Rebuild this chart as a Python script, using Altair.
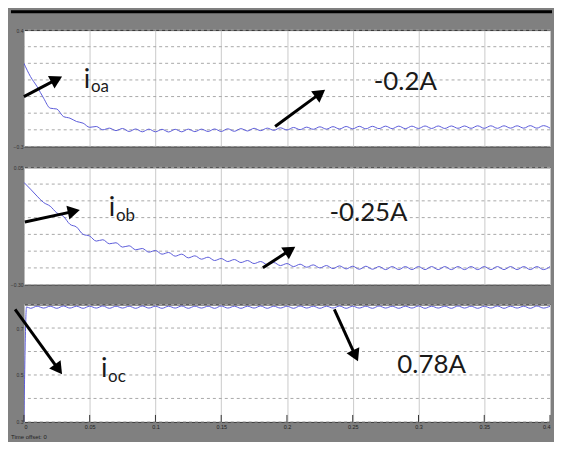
import math
import altair as alt
import pandas as pd

# ---------------- data ----------------
time = [round(i * 0.005, 3) for i in range(81)]

i_oa = [0.20, 0.12, 0.06, -0.01, -0.07, -0.075, -0.12, -0.13, -0.15, -0.16,
        -0.185, -0.18, -0.20, -0.19, -0.205, -0.192,
        -0.210, -0.195, -0.212, -0.196, -0.212, -0.197, -0.213, -0.197, -0.212, -0.196,
        -0.211, -0.196, -0.210, -0.195, -0.210, -0.194, -0.209, -0.193, -0.207, -0.191,
        -0.205, -0.190, -0.203, -0.188, -0.201, -0.186, -0.199, -0.184, -0.197, -0.182,
        -0.196, -0.181, -0.195, -0.180, -0.194, -0.179, -0.194, -0.179, -0.193, -0.178,
        -0.193, -0.178, -0.193, -0.178, -0.192, -0.177, -0.192, -0.177, -0.192, -0.177,
        -0.191, -0.177, -0.191, -0.176, -0.191, -0.176, -0.191, -0.176, -0.190, -0.176,
        -0.190, -0.175, -0.190, -0.175, -0.190]

i_ob = [0.005, -0.015, -0.036, -0.055, -0.066, -0.086, -0.096, -0.120, -0.128, -0.150,
        -0.155, -0.170, -0.166, -0.178, -0.175, -0.188, -0.184, -0.196, -0.192, -0.203,
        -0.198, -0.209, -0.204, -0.215, -0.209, -0.220, -0.214, -0.224, -0.218, -0.228,
        -0.222, -0.231, -0.225, -0.234, -0.228, -0.237, -0.231, -0.240, -0.234, -0.243,
        -0.237, -0.246, -0.239, -0.248, -0.241, -0.250, -0.243, -0.252, -0.244, -0.253,
        -0.245, -0.254, -0.245, -0.254, -0.246, -0.255, -0.246, -0.255, -0.246, -0.255,
        -0.246, -0.255, -0.246, -0.255, -0.246, -0.255, -0.246, -0.255, -0.246, -0.255,
        -0.246, -0.255, -0.246, -0.255, -0.246, -0.255, -0.246, -0.255, -0.246, -0.255,
        -0.246]

time_oc = [0.0, 0.002] + [round(i * 0.005, 3) for i in range(1, 81)]
i_oc = [0.30, 0.79,
        0.784, 0.793, 0.785, 0.793, 0.784, 0.794, 0.785, 0.793, 0.784, 0.793,
        0.785, 0.794, 0.784, 0.793, 0.785, 0.793, 0.784, 0.794, 0.785, 0.793,
        0.784, 0.793, 0.785, 0.794, 0.784, 0.793, 0.785, 0.793, 0.784, 0.794,
        0.785, 0.793, 0.784, 0.793, 0.785, 0.794, 0.784, 0.793, 0.785, 0.793,
        0.784, 0.794, 0.785, 0.793, 0.784, 0.793, 0.785, 0.794, 0.784, 0.793,
        0.785, 0.793, 0.784, 0.794, 0.785, 0.793, 0.784, 0.793, 0.785, 0.794,
        0.784, 0.793, 0.785, 0.793, 0.784, 0.794, 0.785, 0.793, 0.784, 0.793,
        0.785, 0.794, 0.784, 0.793, 0.785, 0.793, 0.784, 0.794, 0.785, 0.793]

x_ticks = [0, 0.05, 0.1, 0.15, 0.2, 0.25, 0.3, 0.35, 0.4]
y_ticks_a = [-0.3, -0.2, -0.1, 0.0, 0.1, 0.2, 0.3, 0.4]
y_ticks_b = [-0.3, -0.25, -0.2, -0.15, -0.1, -0.05, 0.0, 0.05]
y_ticks_c = [0.3, 0.4, 0.5, 0.6, 0.7, 0.8]

# annotation arrows (tail t, tail v, tip t, tip v) in data units
arrows_a = [(0.0, 0.0, 0.029, 0.12), (0.191, -0.18, 0.229, 0.041)]
arrows_b = [(0.0007, -0.113, 0.0425, -0.0775), (0.1817, -0.2496, 0.2063, -0.187)]
arrows_c = [(-0.0067, 0.779, 0.029, 0.503), (0.236, 0.779, 0.254, 0.558)]

# symbol texts: (t, v, main, subscript t, subscript v, subscript)
sym_a = (0.048, 0.10, "i", 0.051, 0.055, "oa")
sym_b = (0.067, -0.072, "i", 0.070, -0.095, "ob")
sym_c = (0.061, 0.525, "i", 0.064, 0.492, "oc")
val_a = (0.290, 0.089, "-0.2A")
val_b = (0.262, -0.086, "-0.25A")
val_c = (0.3100, 0.542, "0.78A")
time_offset_label = ["Time offset:  0"]

# ---------------- chart ----------------
W = 529
X_DOM = [0, 0.4]
HEAD = 200
FONT = "Lato"


def panel(t, v, ydom, yvals, yfmt, H, arrows, sym, val, top=False, bottom=False):
    xs = alt.Scale(domain=X_DOM, nice=False, zero=False)
    ys = alt.Scale(domain=ydom, nice=False, zero=False)
    xaxis = alt.Axis(values=x_ticks, format="~g", grid=True, gridColor="#cacaca",
                     gridWidth=1, ticks=False, domain=False, labels=bottom,
                     labelFontSize=5.5, labelColor="#222", labelPadding=3,
                     labelFont="Liberation Sans", title=None)
    yaxis = alt.Axis(values=yvals, format=yfmt, grid=False, ticks=False, domain=False,
                     labelFontSize=5, labelColor="#333", labelPadding=1,
                     labelOverlap=False, labelFont="Liberation Sans", title=None)
    X = alt.X("t:Q", scale=xs, axis=xaxis)
    Y = alt.Y("v:Q", scale=ys, axis=yaxis)
    Xn = alt.X("t:Q", scale=xs)
    Yn = alt.Y("v:Q", scale=ys)

    hgrid = alt.Chart(pd.DataFrame({"v": yvals})).mark_rule(
        color="#a8a8a8", strokeWidth=1, strokeDash=[3, 3]
    ).encode(y=Y)

    line = alt.Chart(pd.DataFrame({"t": t, "v": v})).mark_line(
        color="#5c5cda", strokeWidth=1, interpolate="monotone", clip=True
    ).encode(x=X, y=Yn)

    sx = W / (X_DOM[1] - X_DOM[0])
    sy = H / (ydom[1] - ydom[0])
    h = math.sqrt(3) * (math.sqrt(HEAD) / 2) / 2
    rows, heads = [], []
    for k, (t0, v0, t1, v1) in enumerate(arrows):
        dx = (t1 - t0) * sx
        dy = -(v1 - v0) * sy
        L = math.hypot(dx, dy)
        ux, uy = dx / L, dy / L
        ct = t1 - h * ux / sx
        cv = v1 + h * uy / sy
        ang = math.degrees(math.atan2(ux, -uy)) % 360
        rows += [{"id": k, "o": 0, "t": t0, "v": v0}, {"id": k, "o": 1, "t": ct, "v": cv}]
        heads.append({"t": ct, "v": cv, "ang": ang})
    shafts = alt.Chart(pd.DataFrame(rows)).mark_line(
        color="black", strokeWidth=3
    ).encode(x=Xn, y=Yn, detail="id:N", order="o:Q")
    tips = alt.Chart(pd.DataFrame(heads)).mark_point(
        shape="triangle-up", filled=True, size=HEAD, color="black", opacity=1
    ).encode(x=Xn, y=Yn, angle=alt.Angle("ang:Q", scale=None))

    main = alt.Chart(pd.DataFrame({"t": [sym[0]], "v": [sym[1]], "s": [sym[2]]})).mark_text(
        font=FONT, fontSize=27, color="#1a1a1a", align="center", baseline="middle"
    ).encode(x=Xn, y=Yn, text="s:N")
    sub = alt.Chart(pd.DataFrame({"t": [sym[3]], "v": [sym[4]], "s": [sym[5]]})).mark_text(
        font=FONT, fontSize=17, color="#1a1a1a", align="left", baseline="middle"
    ).encode(x=Xn, y=Yn, text="s:N")
    value = alt.Chart(pd.DataFrame({"t": [val[0]], "v": [val[1]], "s": [val[2]]})).mark_text(
        font=FONT, fontSize=26, color="#1a1a1a", align="center", baseline="middle"
    ).encode(x=Xn, y=Yn, text="s:N")

    layers = [hgrid, line, shafts, tips, main, sub, value]
    one = pd.DataFrame({"a": [0]})
    if top:
        layers.append(alt.Chart(one).mark_rule(color="black", strokeWidth=3).encode(
            x=alt.value(-13), x2=alt.value(W + 2), y=alt.value(-18.5)))
    if bottom:
        layers.append(alt.Chart(pd.DataFrame({"t": x_ticks})).mark_rule(
            color="#333", strokeWidth=1).encode(x=Xn, y=alt.value(H), y2=alt.value(H - 7)))
        layers.append(alt.Chart(pd.DataFrame({"s": time_offset_label})).mark_text(
            font="Liberation Sans", fontSize=6, color="#222", align="left", baseline="middle"
        ).encode(x=alt.value(-13), y=alt.value(H + 15), text="s:N"))
    return alt.layer(*layers).properties(width=W, height=H)


p1 = panel(time, i_oa, [-0.3, 0.4], y_ticks_a, ".1f", 117, arrows_a, sym_a, val_a, top=True)
p2 = panel(time, i_ob, [-0.3, 0.05], y_ticks_b, ".2f", 118, arrows_b, sym_b, val_b)
p3 = panel(time_oc, i_oc, [0.3, 0.8], y_ticks_c, ".1f", 118, arrows_c, sym_c, val_c, bottom=True)

chart = alt.vconcat(p1, p2, p3, spacing=14).properties(
    background="#808080",
    padding={"left": 0, "top": 0, "right": 0, "bottom": 0},
).configure_view(fill="white", stroke="#333333", strokeWidth=1)

chart.save("out.html", embed_options={"renderer": "svg", "actions": False})
